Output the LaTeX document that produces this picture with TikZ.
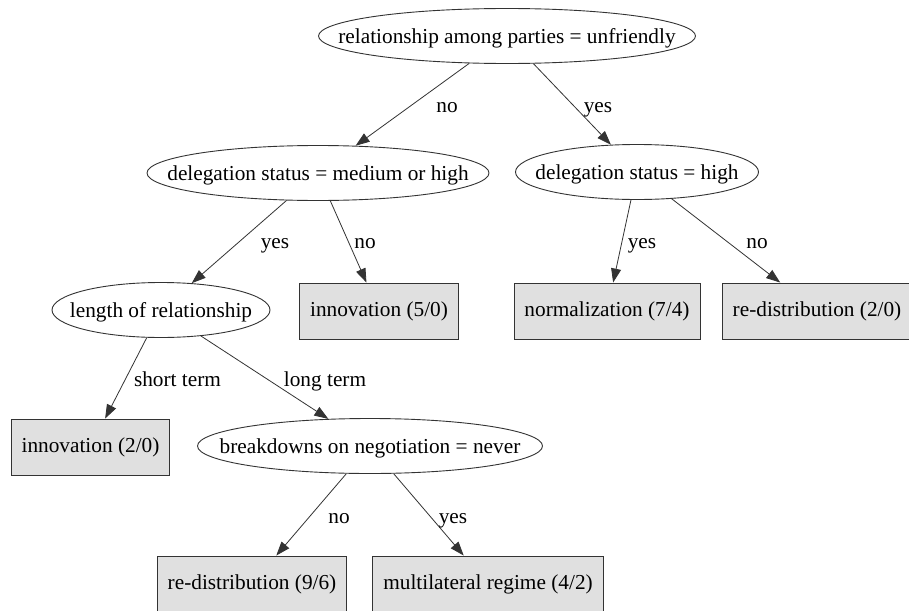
\documentclass[tikz,border=0pt]{standalone}
\usepackage{fontspec}
\setmainfont{Liberation Serif}
\usepackage{xcolor}
\usetikzlibrary{positioning,arrows.meta,shapes.geometric}

\definecolor{leafgray}{HTML}{E0E0E0}
\definecolor{linegray}{HTML}{333333}
% text that does not widen the ellipse around it
\newcommand{\slimtext}[1]{\makebox[0pt]{#1}}

\begin{document}
\begin{tikzpicture}[x=1pt,y=-1pt,
  font=\fontsize{21.3}{25}\selectfont,
  test/.style={ellipse,draw=linegray,line width=0.9pt,inner sep=0pt,minimum height=55pt,text depth=0pt},
  leaf/.style={rectangle,draw=linegray,fill=leafgray,line width=0.9pt,inner xsep=10.5pt,minimum height=56pt},
  arc/.style={draw=linegray,line width=0.8pt,-{Triangle[length=14pt,width=10pt]}},
  lab/.style={anchor=base,inner sep=0pt}]
  \path[use as bounding box,fill=white] (0,0) rectangle (909,610);
  % tests
  \node[test,minimum width=377pt] (root) at (507,36) {\slimtext{relationship among parties = unfriendly}};
  \node[test,minimum width=342pt] (deleg) at (318,173) {\slimtext{delegation status = medium or high}};
  \node[test,minimum width=243pt] (high) at (637,172) {\slimtext{delegation status = high}};
  \node[test,minimum width=218pt] (length) at (161,310) {\slimtext{length of relationship}};
  \node[test,minimum width=345pt] (breaks) at (370,446) {\slimtext{breakdowns on negotiation = never}};
  % leaves
  \node[leaf] (innovA) at (379,311) {innovation (5/0)};
  \node[leaf] (normal) at (607,311) {normalization (7/4)};
  \node[leaf] (redistA) at (817,311) {re-distribution (2/0)};
  \node[leaf] (innovB) at (90.5,447) {innovation (2/0)};
  \node[leaf] (redistB) at (252,584) {re-distribution (9/6)};
  \node[leaf] (multi) at (488,584) {multilateral regime (4/2)};
  % branches
  \draw[arc] (root) -- (deleg);
  \draw[arc] (root) -- (high);
  \draw[arc] (deleg) -- (length);
  \draw[arc] (deleg) -- (innovA);
  \draw[arc] (high) -- (normal);
  \draw[arc] (high) -- (redistA);
  \draw[arc] (length) -- (innovB);
  \draw[arc] (length) -- (breaks);
  \draw[arc] (breaks) -- (redistB);
  \draw[arc] (breaks) -- (multi);
  % branch labels
  \node[lab] (l1) at (447,112) {no};
  \node[lab] (l2) at (598,112) {yes};
  \node[lab] (l3) at (275,248) {yes};
  \node[lab] (l4) at (365,248) {no};
  \node[lab] (l5) at (642,248) {yes};
  \node[lab] (l6) at (757,248) {no};
  \node[lab] (l7) at (177.5,386) {short term};
  \node[lab] (l8) at (325,386) {long term};
  \node[lab] (l9) at (339,523) {no};
  \node[lab] (l10) at (453,523) {yes};
\end{tikzpicture}
\end{document}
